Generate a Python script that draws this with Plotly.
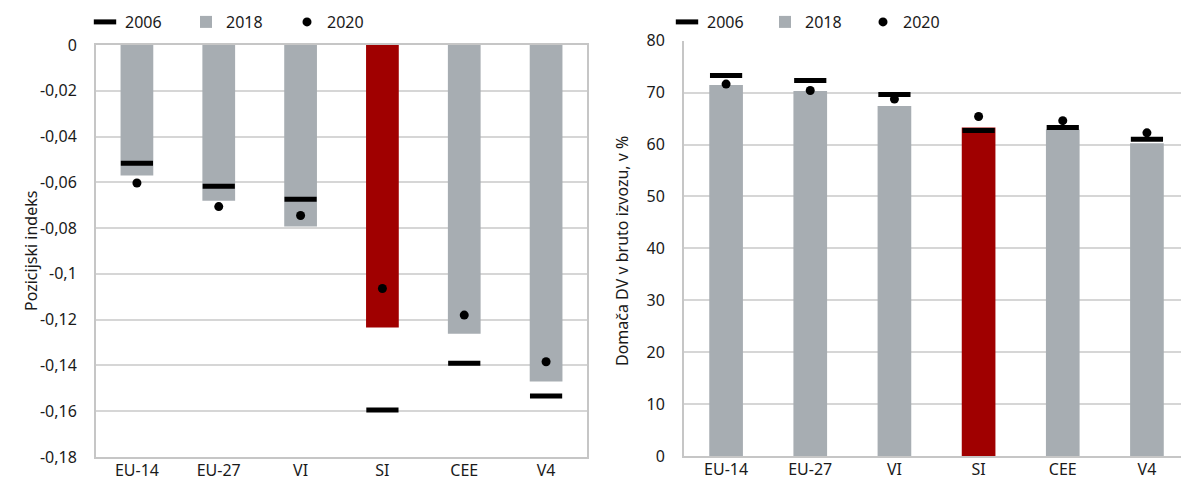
import plotly.graph_objects as go

# Categories shared by both panels
categories = ["EU-14", "EU-27", "VI", "SI", "CEE", "V4"]

# Left panel: position index
pos_2006 = [-0.0517, -0.0617, -0.0674, -0.1595, -0.139, -0.1534]
pos_2018 = [-0.057, -0.068, -0.0793, -0.1234, -0.1262, -0.147]
pos_2020 = [-0.0603, -0.0706, -0.0745, -0.1064, -0.118, -0.1384]
pos_tickvals = [0, -0.02, -0.04, -0.06, -0.08, -0.1, -0.12, -0.14, -0.16, -0.18]
pos_ticktext = ["0", "-0,02", "-0,04", "-0,06", "-0,08", "-0,1", "-0,12", "-0,14", "-0,16", "-0,18"]

# Right panel: domestic value added in gross exports, %
dva_2006 = [73.3, 72.35, 69.65, 62.7, 63.3, 61.0]
dva_2018 = [71.45, 70.3, 67.4, 63.3, 62.9, 60.25]
dva_2020 = [71.64, 70.4, 68.75, 65.4, 64.6, 62.25]
dva_tickvals = [0, 10, 20, 30, 40, 50, 60, 70, 80]

GRAY = "#A7ADB2"
RED = "#A00000"
bar_colors = [RED if c == "SI" else GRAY for c in categories]

FONT = "Noto Sans"
TXT = "#1a1a1a"
GRID = "#D6D6D6"
AXIS = "#C6C6C6"

W, H = 1181, 484

fig = go.Figure()


def add_panel(xa, ya, legend, v2006, v2018, v2020):
    fig.add_trace(go.Bar(
        x=categories, y=v2018, name="2018", width=0.4,
        marker=dict(color=bar_colors, line=dict(width=0)),
        xaxis=xa, yaxis=ya, legend=legend, legendrank=2,
    ))
    fig.add_trace(go.Scatter(
        x=categories, y=v2006, name="2006", mode="markers",
        marker=dict(symbol="line-ew", size=23, color="black",
                    line=dict(width=5, color="black")),
        xaxis=xa, yaxis=ya, legend=legend, legendrank=1,
    ))
    fig.add_trace(go.Scatter(
        x=categories, y=v2020, name="2020", mode="markers",
        marker=dict(symbol="circle", size=9, color="black"),
        xaxis=xa, yaxis=ya, legend=legend, legendrank=3,
    ))


add_panel("x", "y", "legend", pos_2006, pos_2018, pos_2020)
add_panel("x2", "y2", "legend2", dva_2006, dva_2018, dva_2020)

# Right panel extends slightly past the canvas edge, so its last band is clipped
right_clip = 8 / 84

axis_font = dict(family=FONT, size=16, color=TXT)
legend_font = dict(family=FONT, size=16, color=TXT)

fig.update_layout(
    width=W, height=H,
    margin=dict(l=0, r=0, t=0, b=0, autoexpand=False),
    paper_bgcolor="white", plot_bgcolor="white",
    font=dict(family=FONT, size=16, color=TXT),
    xaxis=dict(
        domain=[96 / W, 587 / W], anchor="y", automargin=False,
        range=[-0.5, 5.5], showgrid=False,
        showline=True, linecolor=AXIS, linewidth=2, mirror=True,
        ticks="", tickfont=axis_font, ticklabelstandoff=-2,
    ),
    yaxis=dict(
        domain=[(H - 457) / H, (H - 45) / H], anchor="x", automargin=False,
        range=[-0.18, 0], tickvals=pos_tickvals, ticktext=pos_ticktext,
        showgrid=True, gridcolor=GRID, gridwidth=1.5,
        showline=True, linecolor=AXIS, linewidth=2, mirror=True,
        zeroline=False, ticks="", tickfont=axis_font, ticklabelstandoff=14,
    ),
    xaxis2=dict(
        domain=[684 / W, 1.0], anchor="y2", automargin=False,
        range=[-0.5, 5.5 - right_clip], showgrid=False,
        showline=True, linecolor=AXIS, linewidth=2,
        ticks="", tickfont=axis_font, ticklabelstandoff=-2,
    ),
    yaxis2=dict(
        domain=[(H - 456) / H, (H - 40.7) / H], anchor="x2", automargin=False,
        range=[0, 80], tickvals=dva_tickvals,
        showgrid=True, gridcolor=GRID, gridwidth=1.5,
        showline=True, linecolor=AXIS, linewidth=2,
        zeroline=False, ticks="", tickfont=axis_font, ticklabelstandoff=14,
    ),
    legend=dict(
        orientation="h", x=85 / W, xanchor="left", y=1 - 22 / H, yanchor="middle",
        font=legend_font, traceorder="normal", entrywidth=56,
        bgcolor="rgba(0,0,0,0)",
    ),
    legend2=dict(
        orientation="h", x=667 / W, xanchor="left", y=1 - 22 / H, yanchor="middle",
        font=legend_font, traceorder="normal", entrywidth=53,
        bgcolor="rgba(0,0,0,0)",
    ),
    annotations=[
        dict(text="Pozicijski indeks", x=18 / W, y=1 - 251 / H, xref="paper", yref="paper",
             textangle=-90, showarrow=False, font=dict(family=FONT, size=16, color=TXT)),
        dict(text="Domača DV v bruto izvozu, v %", x=622 / W, y=1 - 251 / H, xref="paper", yref="paper",
             textangle=-90, showarrow=False, font=dict(family=FONT, size=16, color=TXT)),
    ],
)

fig.write_html("out.html")
